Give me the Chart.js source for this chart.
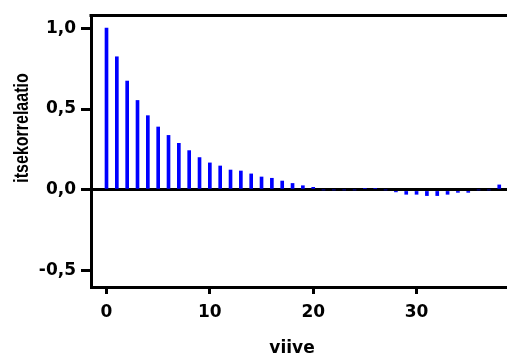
<!DOCTYPE html>
<html>
<head>
<meta charset="utf-8">
<script src="https://cdn.jsdelivr.net/npm/chart.js@4/dist/chart.umd.min.js"></script>
<style>
html,body{margin:0;padding:0;background:#fff;}
#wrap{width:507px;height:356px;position:relative;}
</style>
</head>
<body>
<div id="wrap"><canvas id="c" width="507" height="356"></canvas></div>
<script>
// ---- data ----
const lags = [0,1,2,3,4,5,6,7,8,9,10,11,12,13,14,15,16,17,18,19,20,21,22,23,24,25,26,27,28,29,30,31,32,33,34,35,36,37,38];
const acf  = [1.0,0.823,0.673,0.553,0.459,0.389,0.337,0.288,0.243,0.200,0.167,0.148,0.123,0.117,0.099,0.080,0.072,0.055,0.040,0.026,0.016,0,0,0,0,0.010,0.010,0,-0.012,-0.027,-0.027,-0.035,-0.035,-0.027,-0.015,-0.015,0,0,0.031];
const yTickValues = [-0.5, 0, 0.5, 1.0];
const xTickValues = [0, 10, 20, 30];
const xTitle = 'viive';
const yTitle = 'itsekorrelaatio';

const tickFont = {family: '"DejaVu Sans", sans-serif', size: 17, weight: 'bold'};

const framePlugin = {
  id: 'frame',
  afterDraw(chart) {
    const ctx = chart.ctx, a = chart.chartArea;
    ctx.save();
    ctx.strokeStyle = '#000';
    ctx.lineWidth = 3;
    ctx.beginPath();
    ctx.moveTo(a.left - 1.5, a.top - 0.5);
    ctx.lineTo(chart.width, a.top - 0.5);
    ctx.stroke();
    ctx.fillStyle = '#000';
    ctx.font = 'bold 17px "DejaVu Sans", sans-serif';
    ctx.textAlign = 'center';
    ctx.textBaseline = 'alphabetic';
    ctx.fillText(xTitle, 292, 353);
    ctx.translate(28, 128);
    ctx.rotate(-Math.PI / 2);
    ctx.scale(1, 1.3);
    ctx.font = 'bold 16px "Liberation Sans", Arial, sans-serif';
    ctx.fillText(yTitle, 0, 0);
    ctx.restore();
  }
};

new Chart(document.getElementById('c'), {
  type: 'bar',
  data: {
    datasets: [{
      data: lags.map((l, i) => ({x: l, y: acf[i]})),
      backgroundColor: '#0000ff',
      borderWidth: 0,
      barThickness: 3
    }]
  },
  options: {
    responsive: false,
    animation: false,
    devicePixelRatio: 1,
    layout: {padding: {top: 16, right: 0, left: 0, bottom: 0}},
    plugins: {legend: {display: false}, tooltip: {enabled: false}},
    scales: {
      x: {
        type: 'linear',
        min: -1.5,
        max: 38.75,
        offset: false,
        afterBuildTicks: s => { s.ticks = xTickValues.map(v => ({value: v})); },
        afterFit: s => { s.height = 69; },
        grid: {display: true, drawOnChartArea: false, offset: false, drawTicks: true, tickLength: 7, tickWidth: 3, tickColor: '#000', color: 'rgba(0,0,0,0)', lineWidth: 3},
        border: {display: true, color: '#000', width: 3},
        ticks: {color: '#000', font: tickFont, padding: 8, maxRotation: 0, autoSkip: false,
                callback: v => String(v)}
      },
      y: {
        min: -0.6,
        max: 1.075,
        afterBuildTicks: s => { s.ticks = yTickValues.map(v => ({value: v})); },
        afterFit: s => { s.width = 91; },
        grid: {display: true, drawOnChartArea: true, drawTicks: true, tickLength: 10, tickWidth: 3, tickColor: '#000',
               lineWidth: 3, color: c => (c.tick && c.tick.value === 0) ? '#000' : 'rgba(0,0,0,0)'},
        border: {display: true, color: '#000', width: 3},
        ticks: {color: '#000', font: tickFont, padding: 5,
                callback: v => v.toFixed(1).replace('.', ',')}
      }
    }
  },
  plugins: [framePlugin]
});
</script>
</body>
</html>
